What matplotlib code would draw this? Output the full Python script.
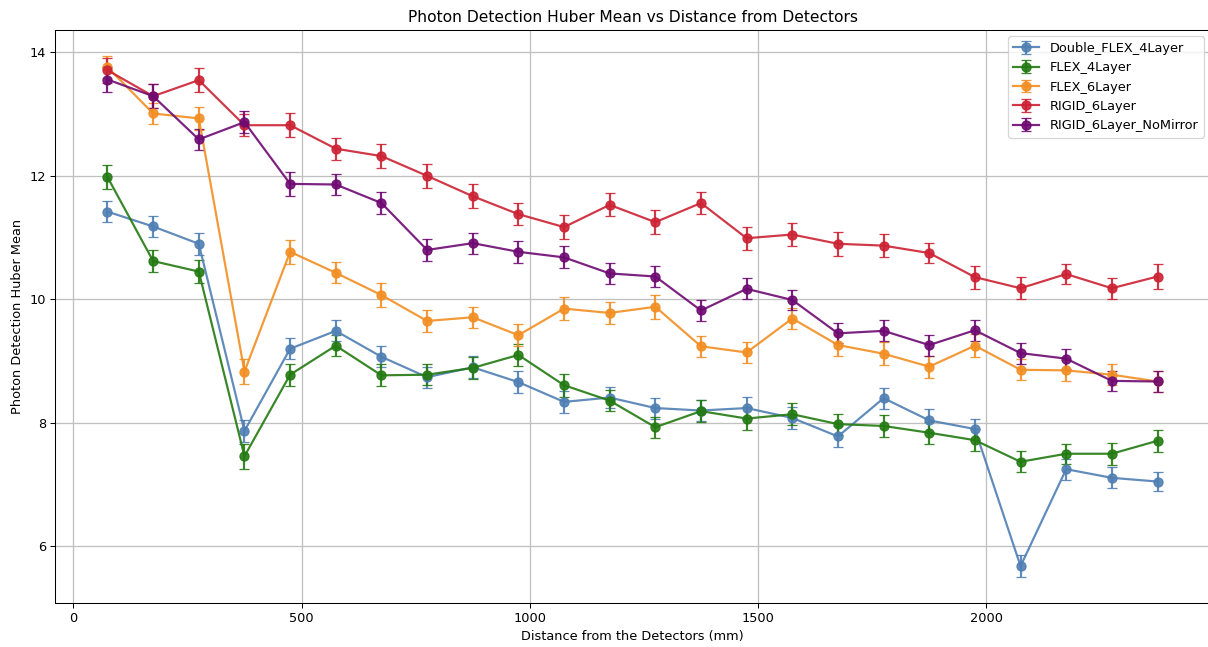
#!/usr/bin/env python3
"""Photon detection Huber mean vs distance from the detectors, per configuration."""

import numpy as np
import matplotlib
matplotlib.use('Agg')
import matplotlib.pyplot as plt

distance = [75, 175, 275, 375, 475, 575, 675, 775, 875, 975, 1075, 1175,
            1275, 1375, 1475, 1575, 1675, 1775, 1875, 1975, 2075, 2175, 2275, 2375]

double_flex_4 = [11.42, 11.18, 10.90, 7.87, 9.20, 9.49, 9.07, 8.74, 8.90, 8.66, 8.34, 8.41,
                 8.24, 8.20, 8.24, 8.08, 7.78, 8.40, 8.04, 7.90, 5.68, 7.25, 7.11, 7.05]
double_flex_4_err = [0.17, 0.17, 0.18, 0.18, 0.17, 0.17, 0.17, 0.17, 0.18, 0.18, 0.18, 0.175,
                     0.17, 0.17, 0.185, 0.18, 0.175, 0.17, 0.18, 0.17, 0.175, 0.17, 0.17, 0.155]

flex_4 = [11.98, 10.62, 10.45, 7.46, 8.78, 9.25, 8.77, 8.78, 8.89, 9.10, 8.61, 8.36,
          7.93, 8.19, 8.07, 8.14, 7.98, 7.95, 7.84, 7.72, 7.37, 7.50, 7.50, 7.71]
flex_4_err = [0.20, 0.175, 0.18, 0.20, 0.18, 0.17, 0.18, 0.17, 0.18, 0.175, 0.185, 0.17,
              0.17, 0.175, 0.18, 0.18, 0.17, 0.175, 0.175, 0.18, 0.17, 0.165, 0.18, 0.18]

flex_6 = [13.76, 13.01, 12.93, 8.83, 10.77, 10.43, 10.07, 9.65, 9.71, 9.42, 9.85, 9.78,
          9.88, 9.24, 9.14, 9.69, 9.26, 9.12, 8.91, 9.25, 8.86, 8.85, 8.78, 8.67]
flex_6_err = [0.18, 0.17, 0.19, 0.20, 0.19, 0.17, 0.19, 0.175, 0.17, 0.18, 0.19, 0.175,
              0.195, 0.17, 0.175, 0.17, 0.17, 0.19, 0.18, 0.185, 0.17, 0.17, 0.17, 0.17]

rigid_6 = [13.71, 13.29, 13.55, 12.82, 12.82, 12.44, 12.32, 12.00, 11.67, 11.38, 11.17, 11.53,
           11.25, 11.56, 10.99, 11.05, 10.90, 10.87, 10.75, 10.36, 10.18, 10.41, 10.18, 10.37]
rigid_6_err = [0.20, 0.19, 0.20, 0.18, 0.195, 0.18, 0.19, 0.19, 0.19, 0.18, 0.195, 0.185,
               0.195, 0.175, 0.185, 0.19, 0.19, 0.19, 0.165, 0.185, 0.175, 0.165, 0.17, 0.195]

rigid_6_nomirror = [13.56, 13.29, 12.59, 12.87, 11.87, 11.86, 11.56, 10.80, 10.91, 10.77, 10.68, 10.42,
                    10.37, 9.82, 10.17, 9.99, 9.45, 9.49, 9.26, 9.50, 9.13, 9.04, 8.68, 8.67]
rigid_6_nomirror_err = [0.20, 0.19, 0.17, 0.18, 0.19, 0.17, 0.175, 0.175, 0.17, 0.175, 0.18, 0.175,
                        0.17, 0.17, 0.17, 0.16, 0.16, 0.17, 0.17, 0.17, 0.17, 0.16, 0.16, 0.175]

series = [
    ('Double_FLEX_4Layer', double_flex_4, double_flex_4_err, '#4f7fb3'),
    ('FLEX_4Layer', flex_4, flex_4_err, '#237a12'),
    ('FLEX_6Layer', flex_6, flex_6_err, '#f28e22'),
    ('RIGID_6Layer', rigid_6, rigid_6_err, '#cc2233'),
    ('RIGID_6Layer_NoMirror', rigid_6_nomirror, rigid_6_nomirror_err, '#6e0a72'),
]

W, H = 1208, 647
DPI = W / 13.0


def main():
    fig, ax = plt.subplots(figsize=(W / DPI, H / DPI), dpi=DPI)
    for name, vals, err, col in series:
        ax.errorbar(distance, vals, yerr=err, fmt='o-', color=col, label=name,
                    capsize=4, markersize=7, linewidth=1.7, alpha=0.9)
    ax.set_xlabel('Distance from the Detectors (mm)')
    ax.set_ylabel('Photon Detection Huber Mean')
    ax.set_title('Photon Detection Huber Mean vs Distance from Detectors')
    ax.grid(True, color='#c0c0c0', linewidth=1)
    ax.legend(loc='upper right')
    # original was saved with a tight crop, the right spine sits just past the edge
    ax.set_position([55 / W, (H - 603) / H, (1210 - 55) / W, (603 - 30) / H])
    fig.savefig('out.png', dpi=DPI)


if __name__ == "__main__":
    main()
